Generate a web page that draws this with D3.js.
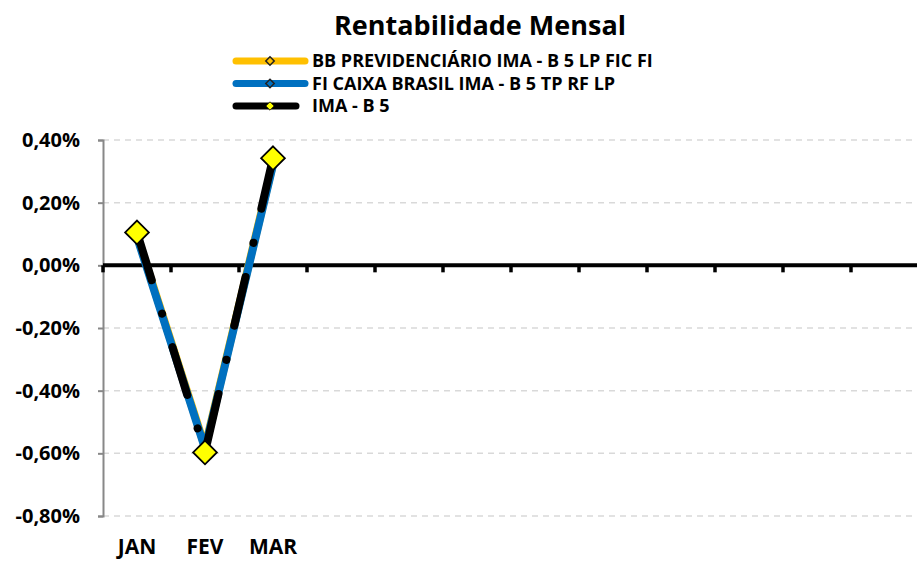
<!DOCTYPE html>
<html>
<head>
<meta charset="utf-8">
<script src="https://cdn.jsdelivr.net/npm/d3@7"></script>
<style>
  body { margin: 0; background: #fff; }
  svg { font-family: "Open Sans", sans-serif; font-weight: bold; }
</style>
</head>
<body>
<svg id="chart" width="917" height="561"></svg>
<script>
const months = ['JAN', 'FEV', 'MAR', 'ABR', 'MAI', 'JUN', 'JUL', 'AGO', 'SET', 'OUT', 'NOV', 'DEZ'];
const yTicks = [0.4, 0.2, 0, -0.2, -0.4, -0.6, -0.8];
const bbValues = [0.095, -0.58, 0.325];
const caixaValues = [0.09, -0.585, 0.32];
const imaValues = [0.105, -0.597, 0.342];
const seriesNames = ['BB PREVIDENCIÁRIO IMA - B 5 LP FIC FI', 'FI CAIXA BRASIL IMA - B 5 TP RF LP', 'IMA - B 5'];

const svg = d3.select('#chart');
const plotLeft = 103, plotRight = 919, plotTop = 140, plotBottom = 516;

const x = d3.scaleBand().domain(months).range([plotLeft, plotRight]);
const y = d3.scaleLinear().domain([-0.8, 0.4]).range([plotBottom, plotTop]);
const fmt = v => d3.format('.2f')(v).replace('.', ',').replace('−', '-') + '%';

// title
svg.append('text')
    .attr('x', 480).attr('y', 35)
    .attr('text-anchor', 'middle')
    .attr('font-size', 27)
    .text('Rentabilidade Mensal');

// grid
svg.append('g').selectAll('line')
  .data(yTicks.filter(d => d !== 0))
  .join('line')
    .attr('x1', plotLeft).attr('x2', plotRight)
    .attr('y1', d => y(d)).attr('y2', d => y(d))
    .attr('stroke', '#d9d9d9')
    .attr('stroke-width', 1.5)
    .attr('stroke-dasharray', '6 5');

// y axis
const yAxis = svg.append('g')
    .attr('transform', `translate(${plotLeft},0)`)
    .call(d3.axisLeft(y).tickValues(yTicks).tickSize(5).tickFormat(fmt));
yAxis.select('.domain').attr('stroke', '#888').attr('stroke-width', 2);
yAxis.selectAll('.tick line').attr('stroke', '#888').attr('stroke-width', 2);
yAxis.selectAll('.tick text')
    .attr('x', -23)
    .attr('font-size', 20)
    .attr('font-family', '"Open Sans", sans-serif')
    .attr('fill', '#000');

// zero axis with ticks at category boundaries
const bounds = months.map(m => x(m)).concat([plotRight]);
svg.append('g').selectAll('line')
  .data(bounds)
  .join('line')
    .attr('x1', d => d).attr('x2', d => d)
    .attr('y1', y(0)).attr('y2', y(0) + 7)
    .attr('stroke', '#000').attr('stroke-width', 3.5);
svg.append('line')
    .attr('x1', plotLeft).attr('x2', plotRight)
    .attr('y1', y(0)).attr('y2', y(0))
    .attr('stroke', '#000').attr('stroke-width', 4);

// x labels
svg.append('g').selectAll('text')
  .data(months.slice(0, imaValues.length))
  .join('text')
    .attr('x', d => x(d) + x.bandwidth() / 2)
    .attr('y', 554)
    .attr('text-anchor', 'middle')
    .attr('font-size', 21)
    .text(d => d);

const line = d3.line()
    .x((d, i) => x(months[i]) + x.bandwidth() / 2)
    .y(d => y(d));

svg.append('path').attr('d', line(bbValues))
    .attr('fill', 'none').attr('stroke', '#ffc000').attr('stroke-width', 8).attr('stroke-linejoin', 'round');
svg.append('path').attr('d', line(caixaValues))
    .attr('fill', 'none').attr('stroke', '#0070c0').attr('stroke-width', 8).attr('stroke-linejoin', 'round');
svg.append('path').attr('d', line(imaValues))
    .attr('fill', 'none').attr('stroke', '#000').attr('stroke-width', 8)
    .attr('stroke-linecap', 'round')
    .attr('stroke-dasharray', '50 35 0.1 35');

const diamond = d3.symbol().type(d3.symbolDiamond2);
svg.append('g').selectAll('path')
  .data(imaValues)
  .join('path')
    .attr('d', diamond.size(360)())
    .attr('transform', (d, i) => `translate(${x(months[i]) + x.bandwidth() / 2},${y(d)})`)
    .attr('fill', '#ffff00')
    .attr('stroke', '#000')
    .attr('stroke-width', 1.8);

// legend
const legend = [
  { name: seriesNames[0], color: '#ffc000', fill: '#ffc000', x2: 305 },
  { name: seriesNames[1], color: '#0070c0', fill: '#0070c0', x2: 305 },
  { name: seriesNames[2], color: '#000', fill: '#ffff00', x2: 296 }
];
const lg = svg.append('g').selectAll('g')
  .data(legend)
  .join('g')
    .attr('transform', (d, i) => `translate(0,${61 + i * 22.5})`);
lg.append('line')
    .attr('x1', 236).attr('x2', d => d.x2)
    .attr('stroke', d => d.color)
    .attr('stroke-width', 7)
    .attr('stroke-linecap', 'round');
lg.append('path')
    .attr('d', diamond.size(45)())
    .attr('transform', 'translate(270,0)')
    .attr('fill', d => d.fill)
    .attr('stroke', (d, i) => i === 2 ? '#000' : '#222')
    .attr('stroke-width', (d, i) => i === 2 ? 0.8 : 1.5);
lg.append('text')
    .attr('x', 312).attr('y', 0)
    .attr('dy', '0.35em')
    .attr('font-size', 18)
    .text(d => d.name);
</script>
</body>
</html>
